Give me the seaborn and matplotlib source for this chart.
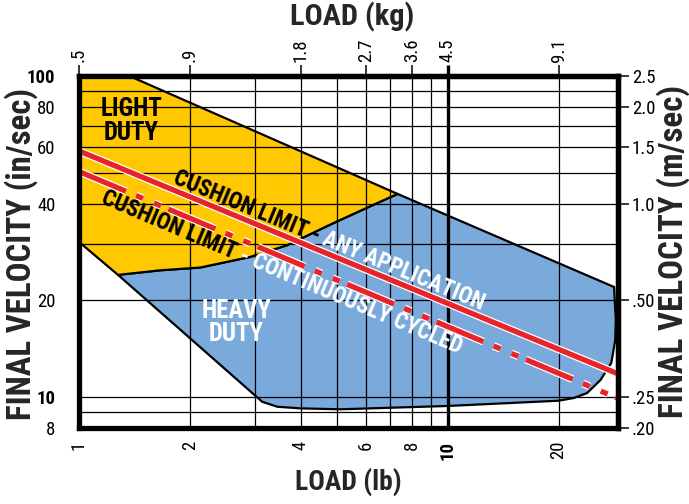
# Cushion limit chart: final velocity vs load (log-log)
import os
import numpy as np
import matplotlib
matplotlib.use("Agg")
import matplotlib.pyplot as plt
import matplotlib.patheffects as pe
from matplotlib import font_manager
from matplotlib.font_manager import FontProperties
from matplotlib.ticker import NullLocator
import seaborn as sns

# ---- values ----
load_ticks_lb = [1, 2, 4, 6, 8, 10, 20]
load_labels_lb = ["1", "2", "4", "6", "8", "10", "20"]
load_labels_kg = [".5", ".9", "1.8", "2.7", "3.6", "4.5", "9.1"]
load_grid_lb = [2, 3, 4, 5, 6, 7, 8, 9, 20]

vel_ticks_in = [8, 10, 20, 40, 60, 80, 100]
vel_labels_in = ["8", "10", "20", "40", "60", "80", "100"]
vel_labels_m = [".20", ".25", ".50", "1.0", "1.5", "2.0", "2.5"]
vel_grid_in = [9, 10, 20, 30, 40, 50, 60, 70, 80, 90]

# light duty region (yellow)
light_lb = [1, 1.37, 7.32, 6.45, 4.90, 3.67, 2.915, 2.13, 1.66, 1.276, 1]
light_vel = [100, 100, 42.9, 40.2, 34.8, 29.7, 27.3, 25.3, 24.8, 24.0, 30.4]

# heavy duty region (blue)
heavy_lb = [1.276, 1.66, 2.13, 2.915, 3.67, 4.90, 6.45, 7.32, 28.3, 28.6,
            28.5, 27.8, 26.0, 23.9, 22.0, 20.0, 10, 5.12, 3.99, 3.45, 3.14]
heavy_vel = [24.0, 24.8, 25.3, 27.3, 29.7, 34.8, 40.2, 42.9, 22.0, 17.4,
             15.0, 12.75, 11.29, 10.28, 9.92, 9.73, 9.37, 9.15, 9.21, 9.32, 9.66]

# cushion limit lines
any_app_lb = [1, 29]
any_app_vel = [58.4, 11.8]
cycled_lb = [1, 29]
cycled_vel = [50.4, 9.9]

YELLOW = "#FFC800"
BLUE = "#7AAADB"
RED = "#E8242B"

sns.set_style("white")
plt.rcParams["lines.scale_dashes"] = False

# ---- pick a static condensed sans (regular + bold) ----
PREFS = ["Roboto Condensed", "Archivo Narrow", "PT Sans Narrow",
         "IBM Plex Sans Condensed", "Pragati Narrow", "Barlow Semi Condensed",
         "Encode Sans Condensed", "Saira Condensed"]


def find_face(family, weight):
    for f in font_manager.fontManager.ttflist:
        fn = os.path.basename(f.fname)
        if f.name == family and f.style == "normal" and f.weight == weight and "[" not in fn:
            return f.fname
    return None


FACES = None
for fam in PREFS:
    reg, bold = find_face(fam, 400), find_face(fam, 700)
    if reg and bold:
        FACES = (reg, bold)
        break
plt.rcParams["font.family"] = ["DejaVu Sans"]


def fp(bold, size):
    if FACES:
        return FontProperties(fname=FACES[1] if bold else FACES[0], size=size)
    return FontProperties(family="DejaVu Sans", weight="bold" if bold else "normal",
                          size=size)


fig = plt.figure(figsize=(6.89, 5.04), dpi=100)
renderer = fig.canvas.get_renderer()


def width_px(s, prop):
    t = fig.text(0, 0, s, fontproperties=prop)
    w = t.get_window_extent(renderer).width
    t.remove()
    return w


def fit(s, target_px, bold=True):
    # font size that makes s about target_px wide
    return 20 * target_px / width_px(s, fp(bold, 20))


ax = fig.add_axes([79 / 689, 76 / 504, 539 / 689, 352 / 504])
ax.set_xscale("log")
ax.set_yscale("log")
ax.set_xlim(1, 29)
ax.set_ylim(8, 100)

# regions
ax.fill(heavy_lb, heavy_vel, facecolor=BLUE, edgecolor="black", lw=1.6, zorder=1)
ax.fill(light_lb, light_vel, facecolor=YELLOW, edgecolor="black", lw=1.6, zorder=1)

# grid
for v in load_grid_lb:
    ax.axvline(v, color="black", lw=0.9, zorder=1.5)
ax.axvline(10, color="black", lw=2.4, zorder=1.5)
for v in vel_grid_in:
    ax.axhline(v, color="black", lw=0.9, zorder=1.5)

# cushion limit lines
outline = [pe.Stroke(linewidth=5.6, foreground="white"), pe.Normal()]
sns.lineplot(x=any_app_lb, y=any_app_vel, ax=ax, color=RED, lw=3.8,
             zorder=3, path_effects=outline)
sns.lineplot(x=cycled_lb, y=cycled_vel, ax=ax, color=RED, lw=3.8, zorder=3,
             linestyle=(0, (36.7, 7.9, 5.4, 8.6, 5.4, 5.8)), path_effects=outline)


def on_line(xs, ys, x):
    return 10 ** np.interp(np.log10(x), np.log10(xs), np.log10(ys))


def screen_angle(xs, ys):
    p0 = ax.transData.transform((xs[0], ys[0]))
    p1 = ax.transData.transform((xs[-1], ys[-1]))
    return np.degrees(np.arctan2(p1[1] - p0[1], p1[0] - p0[0]))


def line_label(xs, ys, x, perp, parts, length_px):
    size = fit(" ".join(s for s, _ in parts), length_px)
    prop = fp(True, size)
    space = width_px("A A", prop) - width_px("AA", prop)
    ang = screen_angle(xs, ys)
    a = np.radians(ang)
    along = np.array([np.cos(a), np.sin(a)])
    normal = np.array([-np.sin(a), np.cos(a)])
    pos = 0.0
    for s, col in parts:
        off = along * pos + normal * perp
        ax.annotate(s, xy=(x, on_line(xs, ys, x)), xytext=tuple(off),
                    textcoords="offset points", rotation=ang,
                    rotation_mode="anchor", ha="left", va="baseline",
                    fontproperties=prop, color=col, zorder=4)
        pos += (width_px(s, prop) + space) * 72 / fig.dpi


line_label(any_app_lb, any_app_vel, 1.76, 4.5,
           [("CUSHION LIMIT -", "black"), ("ANY APPLICATION", "white")], 335)
line_label(cycled_lb, cycled_vel, 1.2, -15,
           [("CUSHION LIMIT", "black"), ("- CONTINUOUSLY CYCLED", "white")], 390)

duty_size = fit("LIGHT", 62)
ax.text(1.385, 72.4, "LIGHT\nDUTY", ha="center", va="center",
        fontproperties=fp(True, duty_size), color="black", linespacing=0.95, zorder=4)
ax.text(2.67, 17.0, "HEAVY\nDUTY", ha="center", va="center",
        fontproperties=fp(True, duty_size), color="white", linespacing=0.95, zorder=4)

# frame
for s in ax.spines.values():
    s.set_linewidth(3.8)
    s.set_color("black")
    s.set_zorder(5)

tick_size = 13.5

# bottom / left ticks
ax.xaxis.set_minor_locator(NullLocator())
ax.yaxis.set_minor_locator(NullLocator())
ax.set_xticks(load_ticks_lb)
ax.set_xticklabels(load_labels_lb, rotation=90)
ax.set_yticks(vel_ticks_in)
ax.set_yticklabels(vel_labels_in)
ax.tick_params(axis="x", direction="out", length=7, width=1.1, pad=2, colors="black")
ax.tick_params(axis="y", direction="out", length=15, width=1.1, pad=2, colors="black")
for i, lbl in enumerate(ax.get_xticklabels()):
    lbl.set_fontproperties(fp(i == 5, tick_size))
for i, lbl in enumerate(ax.get_yticklabels()):
    lbl.set_fontproperties(fp(i in (1, 6), tick_size))
ax.xaxis.get_major_ticks()[5].tick1line.set_markeredgewidth(2.4)

# top axis in kg
secx = ax.secondary_xaxis("top", functions=(lambda v: v, lambda v: v))
secx.xaxis.set_minor_locator(NullLocator())
secx.set_xticks(load_ticks_lb)
secx.set_xticklabels(load_labels_kg, rotation=90)
secx.tick_params(direction="out", length=8, width=1.1, pad=2, colors="black")
for lbl in secx.get_xticklabels():
    lbl.set_fontproperties(fp(False, tick_size))
for t in secx.xaxis.get_major_ticks()[5:6]:
    t.tick1line.set_markeredgewidth(2.4)
    t.tick2line.set_markeredgewidth(2.4)
secx.spines["top"].set_linewidth(3.8)

# right axis in m/sec
secy = ax.secondary_yaxis("right", functions=(lambda v: v, lambda v: v))
secy.yaxis.set_minor_locator(NullLocator())
secy.set_yticks(vel_ticks_in)
secy.set_yticklabels(vel_labels_m)
secy.tick_params(direction="out", length=8, width=1.1, pad=2, colors="black")
for lbl in secy.get_yticklabels():
    lbl.set_fontproperties(fp(False, tick_size))
secy.spines["right"].set_linewidth(3.8)

# axis titles
kw = dict(ha="center", va="center")
fig.text(352 / 689, 1 - 17 / 504, "LOAD (kg)",
         fontproperties=fp(True, fit("LOAD (kg)", 125)), **kw)
fig.text(348 / 689, 1 - 482 / 504, "LOAD (lb)",
         fontproperties=fp(True, fit("LOAD (lb)", 107)), **kw)
fig.text(21 / 689, 1 - 254 / 504, "FINAL VELOCITY (in/sec)", rotation=90,
         fontproperties=fp(True, fit("FINAL VELOCITY (in/sec)", 332)), **kw)
fig.text(673 / 689, 1 - 251 / 504, "FINAL VELOCITY (m/sec)", rotation=90,
         fontproperties=fp(True, fit("FINAL VELOCITY (m/sec)", 333)), **kw)

fig.savefig("out.png", dpi=100)
